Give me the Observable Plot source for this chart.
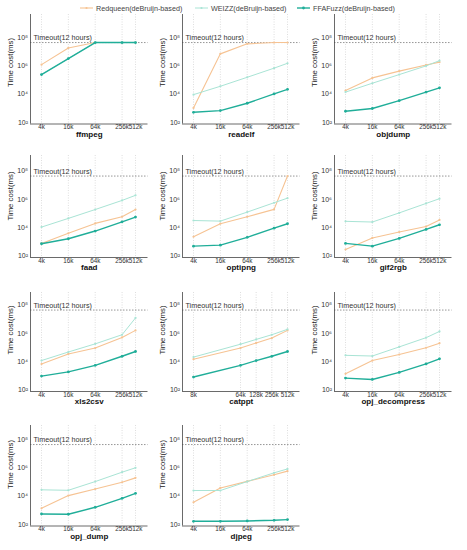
<!DOCTYPE html>
<html><head><meta charset="utf-8">
<script src="https://cdn.jsdelivr.net/npm/d3@7"></script>
<script src="https://cdn.jsdelivr.net/npm/@observablehq/plot@0.6"></script>
<style>
body{margin:0;background:#fff;font-family:"Liberation Sans",Arial,sans-serif;}
#root{position:relative;width:467px;height:550px;overflow:hidden;background:#fff;}
.panel{position:absolute;}
.item{position:absolute;top:2px;height:12px;display:flex;align-items:center;font-size:7.2px;color:#444;white-space:nowrap;}
.item svg{margin-right:3px;}
</style></head><body><div id="root"></div>
<script>
// ---------- data ----------
const TIMEOUT = 43200000; // 12 hours in ms
const T = TIMEOUT;
const seriesNames = ["Redqueen(deBruijn-based)", "WEIZZ(deBruijn-based)", "FFAFuzz(deBruijn-based)"];
const programs = ["ffmpeg","readelf","objdump","faad","optipng","gif2rgb","xls2csv","catppt","opj_decompress","opj_dump","djpeg"];
const sizesStd = ["4k","16k","64k","256k","512k"];
const sizesCatppt = ["8k","64k","128k","256k","512k"];
const yTicks = [1e2, 1e4, 1e6, 1e8];
// time cost (ms) per program, in the order of `programs`
const redqueen = [
  [1.2e6, 1.8e7, T, T, T],
  [1.07e3, 6.9e6, 3.5e7, T, T],
  [1.8e4, 1.4e5, 4.2e5, 1.15e6, 1.8e6],
  [780, 4e3, 2e4, 5.9e4, 1.9e5],
  [2.3e3, 1.9e4, 5.9e4, 1.95e5, T],
  [290, 1.9e3, 4.9e3, 1.2e4, 3.5e4],
  [6.8e3, 3.5e4, 9.2e4, 5.1e5, 1.6e6],
  [1.5e4, 9.2e4, 2.1e5, 4.6e5, 1.6e6],
  [1.4e3, 1.2e4, 3.2e4, 9.6e4, 2e5],
  [1.4e3, 1.1e4, 3.2e4, 9.6e4, 1.95e5],
  [3.7e3, 3.8e4, 1.1e5, 3.2e5, 5.8e5]
];
const weizz = [
  [2.4e5, 3.2e6, T, T, T],
  [9.3e3, 3.6e4, 1.55e5, 6.8e5, 1.5e6],
  [1.4e4, 5.9e4, 2.4e5, 9.8e5, 2.3e6],
  [1.1e4, 4.5e4, 1.9e5, 8.3e5, 1.9e6],
  [3.2e4, 2.9e4, 1.25e5, 5.7e5, 1.2e6],
  [2.8e4, 2.5e4, 1.1e5, 5.1e5, 1.1e6],
  [1.2e4, 4.8e4, 1.8e5, 7.9e5, 1.2e7],
  [2.1e4, 1.7e5, 3.7e5, 7.9e5, 1.9e6],
  [2.8e4, 2.5e4, 1.1e5, 4.9e5, 1.35e6],
  [2.8e4, 2.6e4, 1.07e5, 4.9e5, 1.0e6],
  [2.5e4, 2.5e4, 1.07e5, 4.4e5, 8.3e5]
];
const ffafuzz = [
  [2.4e5, 3.2e6, T, T, T],
  [530, 700, 2.3e3, 1.05e4, 2.2e4],
  [630, 980, 3.5e3, 1.4e4, 2.8e4],
  [740, 1.66e3, 5.8e3, 2.6e4, 5.6e4],
  [500, 590, 2.1e3, 9.3e3, 1.9e4],
  [780, 500, 1.75e3, 7.5e3, 1.6e4],
  [970, 1.9e3, 5.5e3, 2.4e4, 5.2e4],
  [830, 5.5e3, 1.2e4, 2.4e4, 5.2e4],
  [700, 560, 1.75e3, 7e3, 1.6e4],
  [560, 535, 1.65e3, 7.1e3, 1.6e4],
  [170, 170, 180, 200, 225]
];
const seriesValues = [redqueen, weizz, ffafuzz];

// ---------- style / layout ----------
const colors = ["#f6c393", "#a9e4d5", "#20ae99"];
const widths = [1.1, 1.0, 1.4];
const radii = [1.1, 1.1, 1.4];
const FONT = '"Liberation Sans", Arial, sans-serif';
const colX = [29.5, 182, 334];
const rowTop = [14, 155, 292, 425];
const rowBottom = [123.5, 257, 391, 525.5];
const FRAME_W = 117.5, DATA_PX = 94, PADL = 11, PADR = 12.5;
const PX_PER_DECADE = 14.2, LOG_YMIN = 1.9;
const ML = 32, MR = 10, MT = 6, MB = 22;
const sup = {"0":"⁰","1":"¹","2":"²","3":"³","4":"⁴","5":"⁵","6":"⁶","7":"⁷","8":"⁸","9":"⁹"};

const root = document.getElementById("root");

// legend
const legendX = [80, 195, 297];
seriesNames.forEach((name, i) => {
  const d = document.createElement("div");
  d.className = "item";
  d.style.left = legendX[i] + "px";
  d.innerHTML = `<svg width="13" height="6"><line x1="0" y1="3" x2="13" y2="3" stroke="${colors[i]}" stroke-width="${widths[i]}"/><circle cx="6.5" cy="3" r="${radii[i]}" fill="${colors[i]}"/></svg><span>${name}</span>`;
  root.appendChild(d);
});

programs.forEach((prog, i) => {
  const r = Math.floor(i / 3), c = i % 3;
  const labels = prog === "catppt" ? sizesCatppt : sizesStd;
  const xs = labels.map(s => parseInt(s));
  const labelOf = new Map(xs.map((x, j) => [x, labels[j]]));
  const lo = Math.log2(xs[0]), hi = Math.log2(xs[xs.length - 1]);
  const per = DATA_PX / (hi - lo);
  const xDomain = [2 ** (lo - PADL / per), 2 ** (hi + PADR / per)];
  const frameH = rowBottom[r] - rowTop[r];
  const yDomain = [10 ** LOG_YMIN, 10 ** (LOG_YMIN + frameH / PX_PER_DECADE)];

  const seriesData = seriesValues.map(vals => vals[i].map((v, j) => ({size: xs[j], time: v})));

  const marks = [
    Plot.gridX(xs, {stroke: "#c8c8c8", strokeOpacity: 1, strokeWidth: 0.6, strokeDasharray: "1,1.5"}),
    Plot.ruleY([TIMEOUT], {stroke: "#8a8a8a", strokeWidth: 0.9, strokeDasharray: "1.5,1.5"}),
    Plot.text(["Timeout(12 hours)"], {frameAnchor: "left", y: [TIMEOUT], dx: 3, dy: -4.5, textAnchor: "start", fontSize: 7.2, fill: "#333"}),
    Plot.ruleX([xDomain[0]], {stroke: "#444", strokeWidth: 0.8}),
    Plot.ruleY([yDomain[0]], {stroke: "#444", strokeWidth: 0.8}),
    Plot.axisX({ticks: xs, tickFormat: d => labelOf.get(d) ?? "", tickSize: 0, tickPadding: 1, label: null, fontSize: 6.3, fill: "#333"}),
    Plot.axisY({ticks: yTicks, tickFormat: d => "10" + String(Math.round(Math.log10(d))).split("").map(ch => sup[ch]).join(""), tickSize: 0, tickPadding: 2.5, label: null, fontSize: 7, fill: "#333"}),
    Plot.text(["Time cost(ms)"], {frameAnchor: "left", y: [10 ** 4.5], dx: -20, rotate: -90, fontSize: 7.8, fill: "#222"}),
    Plot.text([prog], {frameAnchor: "bottom", dy: 12.8, fontSize: 8, fontWeight: "bold", fill: "#111"})
  ];
  seriesData.forEach((data, s) => {
    marks.push(Plot.line(data, {x: "size", y: "time", stroke: colors[s], strokeWidth: widths[s]}));
    marks.push(Plot.dot(data, {x: "size", y: "time", r: radii[s], fill: colors[s], stroke: "none"}));
  });

  const plot = Plot.plot({
    width: ML + FRAME_W + MR,
    height: MT + frameH + MB,
    marginLeft: ML, marginRight: MR, marginTop: MT, marginBottom: MB,
    style: {fontFamily: FONT, background: "transparent", overflow: "visible", color: "#333"},
    x: {type: "log", base: 2, domain: xDomain, axis: null},
    y: {type: "log", domain: yDomain, axis: null},
    marks
  });
  const wrap = document.createElement("div");
  wrap.className = "panel";
  wrap.style.left = (colX[c] - ML) + "px";
  wrap.style.top = (rowTop[r] - MT) + "px";
  wrap.appendChild(plot);
  root.appendChild(wrap);
});
</script></body></html>
